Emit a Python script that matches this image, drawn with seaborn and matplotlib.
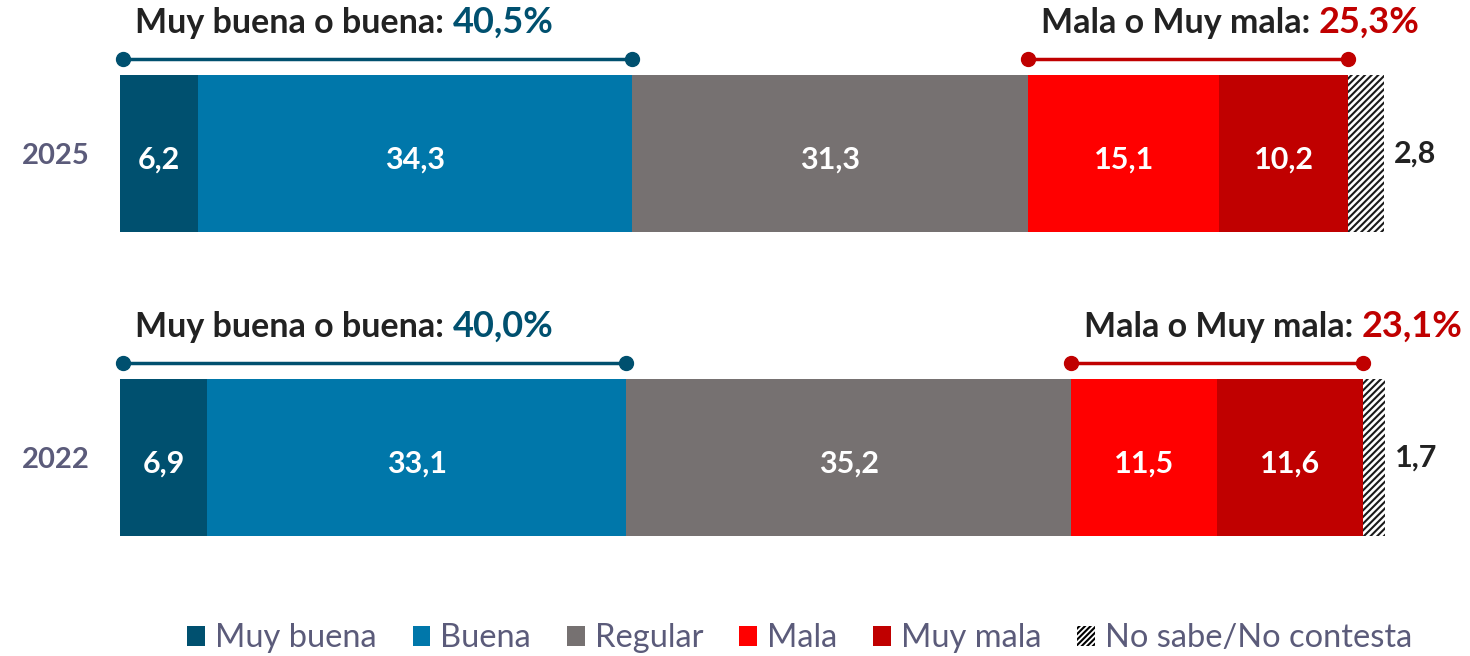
import pandas as pd
import matplotlib.pyplot as plt
from matplotlib.patches import Patch
import seaborn as sns

# Data
years = ['2025', '2022']
categories = ['Muy buena', 'Buena', 'Regular', 'Mala', 'Muy mala', 'No sabe/No contesta']
values_2025 = [6.2, 34.3, 31.3, 15.1, 10.2, 2.8]
values_2022 = [6.9, 33.1, 35.2, 11.5, 11.6, 1.7]
good_totals = ['40,5%', '40,0%']
bad_totals = ['25,3%', '23,1%']
colors = ['#00506F', '#0077AA', '#767171', '#FF0000', '#C00000', 'white']
blue_dark = '#00506F'
red_dark = '#C00000'
text_dark = '#222222'
text_grey = '#5B5B7A'

sns.set_style('white')
plt.rcParams['font.family'] = ['Lato', 'DejaVu Sans']
plt.rcParams['hatch.linewidth'] = 1.5

df = pd.DataFrame([values_2025, values_2022], index=years, columns=categories)
cum = df.cumsum(axis=1)

fig = plt.figure(figsize=(14.7, 6.56), dpi=100)
ax = fig.add_axes([120 / 1470, 0, 1265 / 1470, 1])

# stacked bars: draw cumulative totals from the back to the front
for i in reversed(range(len(categories))):
    cat = categories[i]
    plot_df = pd.DataFrame({'year': years, 'total': cum[cat].values})
    kw = dict(linewidth=0)
    if i == len(categories) - 1:
        kw = dict(hatch='/////', edgecolor='#1a1a1a', linewidth=0)
    sns.barplot(data=plot_df, x='total', y='year', order=years, orient='h',
                color=colors[i], saturation=1, width=0.516, ax=ax, **kw)

ax.set_xlim(0, 100)
ax.set_ylim(1.653, -0.505)
ax.set_xlabel('')
ax.set_ylabel('')
ax.set_xticks([])
sns.despine(ax=ax, left=True, bottom=True)
ax.tick_params(axis='y', length=0, pad=22)
for lab in ax.get_yticklabels():
    lab.set_fontsize(21)
    lab.set_fontweight('bold')
    lab.set_color(text_grey)

# segment labels
for r, year in enumerate(years):
    vals = df.loc[year]
    ends = cum.loc[year]
    for i, cat in enumerate(categories):
        v = vals[cat]
        txt = f'{v:.1f}'.replace('.', ',')
        if i < len(categories) - 1:
            ax.text(ends[cat] - v / 2, r + 0.02, txt, ha='center', va='center',
                    color='white', fontsize=22, fontweight='bold')
        else:
            ax.text(ends[cat] + 0.8, r, txt, ha='left', va='center',
                    color=text_dark, fontsize=22, fontweight='bold', clip_on=False)

# brackets with totals
for r, year in enumerate(years):
    good_end = cum.loc[year, 'Buena']
    bad_start = cum.loc[year, 'Regular']
    bad_end = cum.loc[year, 'Muy mala']
    yb = r - 0.31
    yt = r - 0.43
    ax.plot([0.2, good_end], [yb, yb], color=blue_dark, lw=2.5, marker='o',
            markersize=10, clip_on=False)
    ax.plot([bad_start, bad_end], [yb, yb], color=red_dark, lw=2.5, marker='o',
            markersize=10, clip_on=False)

    t1 = ax.text(1.2, yt, 'Muy buena o buena:', ha='left', va='center',
                 color=text_dark, fontsize=24.5, fontweight='bold', clip_on=False)
    ax.annotate(good_totals[r], xy=(1, 0), xycoords=t1, xytext=(6, 0),
                textcoords='offset points', ha='left', va='bottom',
                color=blue_dark, fontsize=26, fontweight='bold')
    t2 = ax.text(bad_start + 1.0, yt, 'Mala o Muy mala:', ha='left', va='center',
                 color=text_dark, fontsize=24.5, fontweight='bold', clip_on=False)
    ax.annotate(bad_totals[r], xy=(1, 0), xycoords=t2, xytext=(6, 0),
                textcoords='offset points', ha='left', va='bottom',
                color=red_dark, fontsize=26, fontweight='bold')

# legend
handles = [Patch(facecolor=c, linewidth=0) for c in colors[:-1]]
handles.append(Patch(facecolor='white', hatch='//////', edgecolor='black', linewidth=0))
leg = fig.legend(handles, categories, loc='center', bbox_to_anchor=(0.544, 0.027),
                 ncol=6, frameon=False, fontsize=23.5, handlelength=0.55,
                 handleheight=0.55, handletextpad=0.3, columnspacing=1.1)
for t in leg.get_texts():
    t.set_color(text_grey)

fig.savefig('out.png', dpi=100)
